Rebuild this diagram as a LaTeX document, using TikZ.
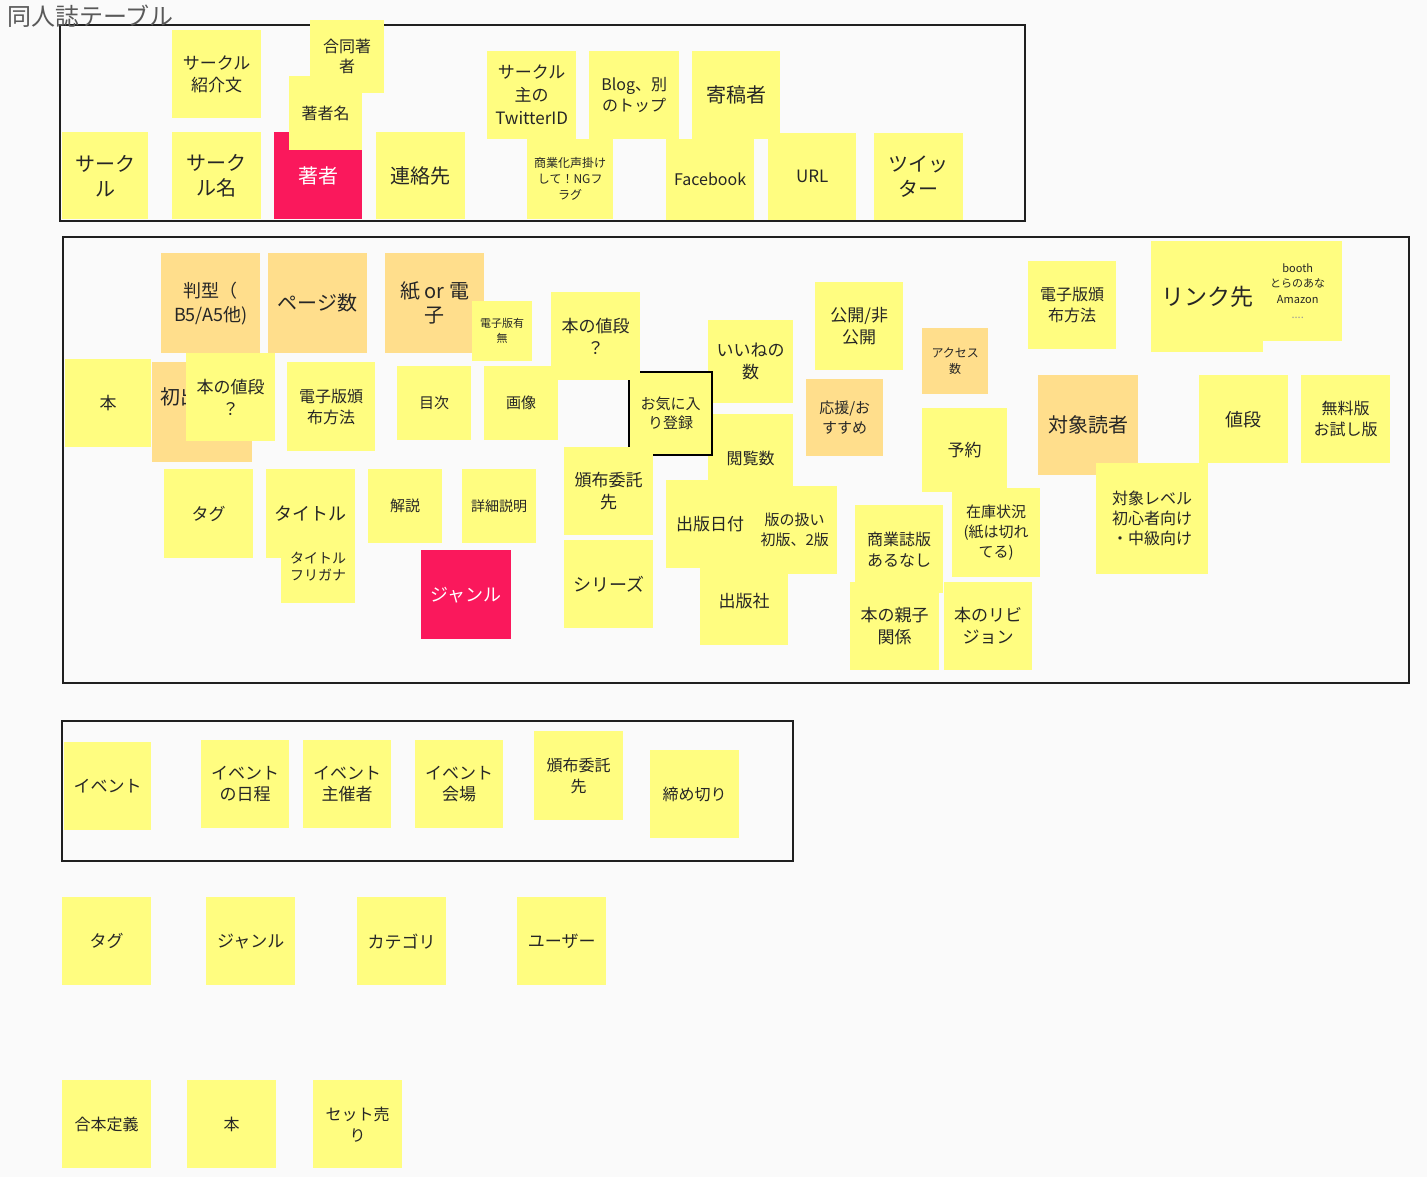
\documentclass[tikz,border=0pt]{standalone}
\usepackage{fontspec}
\setmainfont{Noto Sans CJK JP}
\definecolor{sticky}{RGB}{255,253,128}
\definecolor{stickywarm}{RGB}{255,222,140}
\definecolor{stickyhot}{RGB}{250,24,92}
\definecolor{board}{RGB}{250,250,250}
\newcommand{\fsz}[2]{\fontsize{#1}{#2}\selectfont}

\begin{document}
\begin{tikzpicture}[
  x=1pt, y=-1pt,
  note/.style={rectangle, fill=sticky, anchor=north west, minimum width=89,
    minimum height=89, align=center, inner sep=2pt, text=black!85,
    font=\fsz{17}{22}},
  warmnote/.style={note, fill=stickywarm},
  hotnote/.style={note, fill=stickyhot, text=white},
  frame/.style={draw=black!88, line width=2}
]
  \fill[board] (0,0) rectangle (1427,1177);
  \useasboundingbox (0,0) rectangle (1427,1177);

  % frames
  \draw[frame] (60,25) rectangle (1025,221);
  \draw[frame] (63,237) rectangle (1409,683);
  \draw[frame] (62,721) rectangle (793,861);
  \node[anchor=west, text=black!65, font=\fsz{24}{28}, inner sep=0] (title) at (7,16) {同人誌テーブル};

  % circle
  \node[note, minimum width=86, minimum height=87, font=\fsz{20}{25}] (circle) at (62,132) {サーク\\ル};
  \node[note, minimum height=88] (circleintro) at (172,30) {サークル\\紹介文};
  \node[note, minimum width=89, minimum height=87, font=\fsz{20}{25}] (circlename) at (172,132) {サーク\\ル名};
  \node[note, minimum width=74, minimum height=73, font=\fsz{16}{20}] (coauthor) at (310,20) {合同著\\者};
  \node[hotnote, minimum width=88, minimum height=87, font=\fsz{20}{25}] (author) at (274,132) {著者};
  \node[note, minimum width=73, minimum height=74, font=\fsz{16}{20}] (authorname) at (289,76) {著者名};
  \node[note, minimum width=89, minimum height=87, font=\fsz{20}{25}] (contact) at (376,132) {連絡先};
  \node[note, minimum height=88, font=\fsz{17}{23}] (ownertwitter) at (487,51) {サークル\\主の\\TwitterID};
  \node[note, minimum width=90, minimum height=88, font=\fsz{16}{21}] (blog) at (589,51) {Blog、別\\のトップ};
  \node[note, minimum width=88, minimum height=88, font=\fsz{20}{25}] (contributor) at (692,51) {寄稿者};
  \node[note, minimum width=86, minimum height=80, font=\fsz{12}{16}] (ngflag) at (527,139) {商業化声掛け\\して！NGフ\\ラグ};
  \node[note, minimum width=88, minimum height=81, font=\fsz{16}{20}] (facebook) at (666,139) {Facebook};
  \node[note, minimum width=88, minimum height=87, font=\fsz{17}{22}] (url) at (768,133) {URL};
  \node[note, minimum width=89, minimum height=87, font=\fsz{20}{25}] (twitter) at (874,133) {ツイッ\\ター};

  % book
  \node[warmnote, minimum width=99, minimum height=100, font=\fsz{18}{24}] (format) at (161,253) {判型（\\B5/A5他)};
  \node[warmnote, minimum width=99, minimum height=100, font=\fsz{20}{25}] (pages) at (268,253) {ページ数};
  \node[warmnote, minimum width=99, minimum height=100, font=\fsz{20}{24}] (paperdigital) at (385,253) {紙 or 電\\子};
  \node[note, minimum width=60, minimum height=60, font=\fsz{11}{15}] (hasdigital) at (472,301) {電子版有\\無};
  \node[note, minimum width=86, minimum height=88] (book) at (65,359) {本};
  \node[warmnote, minimum width=100, minimum height=100, align=left, text width=84, inner sep=8pt, font=\fsz{20}{16}] (firstpub) at (152,362) {初出\\　：\\　：};
  \node[note, minimum height=88] (priceleft) at (186,353) {本の値段\\？};
  \node[note, minimum width=88, minimum height=89, font=\fsz{16}{21}] (digitaldist) at (287,362) {電子版頒\\布方法};
  \node[note, minimum width=74, minimum height=74, font=\fsz{15}{19}] (toc) at (397,366) {目次};
  \node[note, minimum width=74, minimum height=74, font=\fsz{15}{19}] (image) at (484,366) {画像};
  \node[note, minimum width=85, minimum height=83] (likes) at (708,320) {いいねの\\数};
  \node[note, minimum width=85, minimum height=88, font=\fsz{16}{20}] (views) at (708,414) {閲覧数};
  \node[note, draw=black, line width=2, minimum width=83, minimum height=83, font=\fsz{15}{19}] (favorite) at (628,371) {お気に入\\り登録};
  \node[note, minimum height=88] (priceright) at (551,292) {本の値段\\？};
  \node[note, minimum height=88] (consign) at (564,447) {頒布委託\\先};
  \node[note, minimum height=88, font=\fsz{18}{22}] (series) at (564,540) {シリーズ};
  \node[note, minimum width=88, minimum height=88] (pubdate) at (666,480) {出版日付};
  \node[note, minimum width=85, minimum height=88, font=\fsz{15}{20}] (edition) at (752,486) {版の扱い\\初版、2版};
  \node[note, minimum width=88, minimum height=89] (publisher) at (700,556) {出版社};
  \node[note, minimum width=88, minimum height=88] (visibility) at (815,282) {公開/非\\公開};
  \node[warmnote, minimum width=77, minimum height=77, font=\fsz{15}{20}] (recommend) at (806,379) {応援/お\\すすめ};
  \node[warmnote, minimum width=66, minimum height=66, font=\fsz{12}{16}] (access) at (922,328) {アクセス\\数};
  \node[note, minimum width=85, minimum height=84] (reserve) at (922,408) {予約};
  \node[note, minimum width=88, minimum height=89, font=\fsz{15}{20}] (stock) at (952,488) {在庫状況\\(紙は切れ\\てる)};
  \node[note, minimum width=88, minimum height=88, font=\fsz{16}{21}] (commercial) at (855,505) {商業誌版\\あるなし};
  \node[note, minimum height=88] (parent) at (850,582) {本の親子\\関係};
  \node[note, minimum width=88, minimum height=88] (revision) at (944,582) {本のリビ\\ジョン};
  \node[note, minimum width=88, minimum height=88, font=\fsz{16}{21}] (digitaldistright) at (1028,261) {電子版頒\\布方法};
  \node[note, minimum width=112, minimum height=111, font=\fsz{23}{28}] (link) at (1151,241) {リンク先};
  \node[note, minimum width=89, minimum height=100, font=\fsz{11}{15.5}] (shops) at (1253,241) {booth\\とらのあな\\Amazon\\{\color{black!40}....}};
  \node[warmnote, minimum width=100, minimum height=100, font=\fsz{20}{25}] (audience) at (1038,375) {対象読者};
  \node[note, minimum height=88, font=\fsz{18}{22}] (price) at (1199,375) {値段};
  \node[note, minimum width=112, minimum height=111, font=\fsz{16}{20}] (level) at (1096,463) {対象レベル\\初心者向け\\・中級向け};
  \node[note, minimum height=88, font=\fsz{16}{21}] (trial) at (1301,375) {無料版\\お試し版};
  \node[note] (tag) at (164,469) {タグ};
  \node[note, font=\fsz{18}{22}] (booktitle) at (266,469) {タイトル};
  \node[note, minimum width=74, minimum height=74, font=\fsz{14}{17}] (furigana) at (281,529) {タイトル\\フリガナ};
  \node[note, minimum width=74, minimum height=74, font=\fsz{15}{19}] (commentary) at (368,469) {解説};
  \node[note, minimum width=74, minimum height=74, font=\fsz{14}{18}] (details) at (462,469) {詳細説明};
  \node[hotnote, minimum width=90, minimum height=89, font=\fsz{18}{22}] (genre) at (421,550) {ジャンル};

  % event
  \node[note, minimum width=87, minimum height=88] (event) at (64,742) {イベント};
  \node[note, minimum width=88, minimum height=88, font=\fsz{17}{21}] (eventdate) at (201,740) {イベント\\の日程};
  \node[note, minimum width=88, minimum height=88, font=\fsz{17}{21}] (eventhost) at (303,740) {イベント\\主催者};
  \node[note, minimum width=88, minimum height=88, font=\fsz{17}{21}] (eventvenue) at (415,740) {イベント\\会場};
  \node[note, minimum height=89, font=\fsz{16}{21}] (eventconsign) at (534,731) {頒布委託\\先};
  \node[note, minimum height=88, font=\fsz{16}{21}] (deadline) at (650,750) {締め切り};

  % loose notes
  \node[note, minimum height=88] (tagdef) at (62,897) {タグ};
  \node[note, minimum height=88] (genredef) at (206,897) {ジャンル};
  \node[note, minimum height=88] (category) at (357,897) {カテゴリ};
  \node[note, minimum height=88] (user) at (517,897) {ユーザー};
  \node[note, minimum height=88, font=\fsz{16}{21}] (omnibus) at (62,1080) {合本定義};
  \node[note, minimum height=88, font=\fsz{16}{21}] (bookdef) at (187,1080) {本};
  \node[note, minimum height=88, font=\fsz{16}{21}] (setsale) at (313,1080) {セット売\\り};
\end{tikzpicture}
\end{document}
